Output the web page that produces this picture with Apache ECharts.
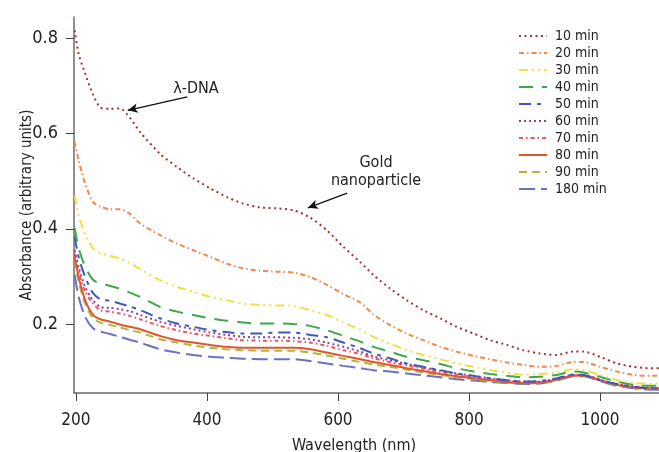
<!DOCTYPE html>
<html><head><meta charset="utf-8">
<script src="https://cdn.jsdelivr.net/npm/echarts@6/dist/echarts.min.js"></script>
<style>html,body{margin:0;padding:0;background:#fff}#c{width:659px;height:452px}</style>
</head><body><div id="c"></div>
<script>
const wavelengths = [198,204,214,226,237,252,267,282,298,328,354,379,405,430,455,481,506,532,557,583,608,634,654,679,705,730,756,781,807,832,858,883,908,934,959,975,1000,1026,1051,1076,1090];

const min10  = [0.817,0.768,0.726,0.682,0.655,0.652,0.653,0.634,0.603,0.558,0.530,0.506,0.485,0.467,0.453,0.445,0.443,0.439,0.424,0.397,0.362,0.330,0.303,0.275,0.250,0.229,0.212,0.194,0.180,0.166,0.156,0.145,0.138,0.135,0.142,0.142,0.131,0.117,0.110,0.107,0.107];
const min20  = [0.583,0.544,0.495,0.456,0.447,0.441,0.441,0.432,0.411,0.387,0.369,0.355,0.341,0.327,0.317,0.312,0.310,0.308,0.299,0.282,0.263,0.245,0.220,0.198,0.180,0.166,0.152,0.142,0.133,0.126,0.119,0.114,0.110,0.112,0.120,0.120,0.110,0.100,0.093,0.091,0.091];
const min30  = [0.470,0.428,0.388,0.359,0.349,0.343,0.338,0.328,0.315,0.292,0.278,0.268,0.257,0.250,0.243,0.240,0.239,0.238,0.229,0.219,0.203,0.188,0.173,0.159,0.145,0.135,0.126,0.117,0.110,0.103,0.098,0.093,0.095,0.098,0.105,0.103,0.093,0.082,0.076,0.074,0.075];
const min40  = [0.402,0.360,0.320,0.293,0.285,0.280,0.274,0.266,0.257,0.236,0.226,0.219,0.212,0.207,0.203,0.201,0.201,0.200,0.196,0.187,0.175,0.163,0.152,0.142,0.131,0.124,0.116,0.107,0.100,0.095,0.091,0.088,0.089,0.093,0.100,0.098,0.089,0.079,0.072,0.070,0.070];
const min50  = [0.383,0.341,0.299,0.265,0.252,0.249,0.243,0.237,0.229,0.212,0.201,0.194,0.187,0.183,0.180,0.180,0.182,0.182,0.177,0.172,0.161,0.149,0.138,0.128,0.117,0.110,0.103,0.096,0.091,0.086,0.082,0.079,0.080,0.086,0.094,0.093,0.082,0.074,0.068,0.065,0.065];
const min60  = [0.355,0.320,0.278,0.250,0.236,0.234,0.231,0.227,0.219,0.205,0.196,0.189,0.182,0.177,0.173,0.172,0.172,0.171,0.168,0.161,0.152,0.142,0.132,0.124,0.116,0.109,0.102,0.096,0.091,0.086,0.082,0.079,0.079,0.085,0.093,0.093,0.083,0.074,0.069,0.066,0.066];
const min70  = [0.348,0.310,0.268,0.243,0.229,0.226,0.222,0.217,0.210,0.196,0.187,0.180,0.175,0.170,0.166,0.165,0.165,0.164,0.161,0.154,0.145,0.137,0.128,0.120,0.113,0.106,0.099,0.094,0.089,0.084,0.080,0.078,0.078,0.084,0.092,0.092,0.082,0.073,0.068,0.065,0.065];
const min80  = [0.341,0.299,0.250,0.219,0.210,0.205,0.199,0.194,0.189,0.175,0.166,0.161,0.156,0.152,0.150,0.150,0.150,0.150,0.147,0.140,0.133,0.126,0.120,0.114,0.107,0.101,0.095,0.090,0.086,0.082,0.078,0.076,0.077,0.083,0.092,0.092,0.082,0.072,0.067,0.064,0.064];
const min90  = [0.334,0.289,0.243,0.212,0.203,0.198,0.193,0.187,0.182,0.168,0.161,0.155,0.150,0.147,0.145,0.144,0.144,0.144,0.140,0.134,0.127,0.120,0.115,0.110,0.104,0.098,0.093,0.088,0.084,0.080,0.077,0.075,0.076,0.082,0.091,0.091,0.081,0.071,0.066,0.063,0.063];
const min180 = [0.303,0.257,0.215,0.191,0.184,0.179,0.173,0.167,0.161,0.147,0.140,0.135,0.131,0.129,0.127,0.126,0.126,0.126,0.122,0.117,0.112,0.107,0.103,0.100,0.096,0.092,0.088,0.084,0.081,0.078,0.076,0.074,0.075,0.081,0.090,0.090,0.080,0.070,0.065,0.062,0.062];

const seriesNames = ['10 min','20 min','30 min','40 min','50 min','60 min','70 min','80 min','90 min','180 min'];
const seriesValues = [min10,min20,min30,min40,min50,min60,min70,min80,min90,min180];
const xTicks = [200,400,600,800,1000];
const yTicks = [0.2,0.4,0.6,0.8];
// annotation arrows in data coordinates: [from, to]
const arrowDNA  = [[370,0.677],[279,0.649]];
const arrowGold = [[614,0.475],[554,0.444]];

const colors = ['#a8302e','#f0894a','#f2df45','#3fa64a','#3a5cb2','#9a3c9e','#ec5560','#e0552a','#b4b43c','#6a70c2'];
const dashes = [[2,3.5],[5,3,1.5,3],[9,4,2,4,2,4],[14,9],[12,6,4,6],[2,3],[4,3,1.5,3],'solid',[8,5],[16,6]];

const FONT = "'Liberation Sans Narrow','Arial Narrow','DejaVu Sans Condensed',sans-serif";

const series = seriesNames.map((name, k) => ({
  name, type: 'line', symbol: 'none', smooth: 0.25,
  data: wavelengths.map((w, i) => [w, seriesValues[k][i]]),
  lineStyle: {color: colors[k], width: 2, type: dashes[k]},
  itemStyle: {color: colors[k]},
  z: 10 - k
}));
series[0].markLine = {
  silent: true, symbol: ['none','arrow'], symbolSize: [7,10], animation: false,
  lineStyle: {color: '#111', width: 1.3, type: 'solid'}, label: {show: false},
  data: [
    [{coord: arrowDNA[0]}, {coord: arrowDNA[1]}],
    [{coord: arrowGold[0]}, {coord: arrowGold[1]}]
  ]
};

const chart = echarts.init(document.getElementById('c'), null, {renderer: 'canvas'});
chart.setOption({
  animation: false,
  backgroundColor: '#fff',
  grid: {left: 74, right: 0, top: 17, bottom: 59, containLabel: false},
  xAxis: {
    type: 'value', min: 197, max: 1090,
    axisLine: {show: true, lineStyle: {color: '#6a6a6a', width: 1.5}},
    axisTick: {show: true, customValues: xTicks, length: 8, lineStyle: {color: '#444', width: 1}},
    axisLabel: {customValues: xTicks, fontSize: 17, fontFamily: FONT, color: '#222', margin: 19,
      formatter: v => String(v)},
    splitLine: {show: false}
  },
  yAxis: {
    type: 'value', min: 0.055, max: 0.845,
    axisLine: {show: true, lineStyle: {color: '#6a6a6a', width: 1.5}},
    axisTick: {show: true, customValues: yTicks, length: 8, lineStyle: {color: '#444', width: 1}},
    axisLabel: {customValues: yTicks, fontSize: 18, fontFamily: FONT, color: '#222', margin: 16,
      formatter: v => v.toFixed(1)},
    splitLine: {show: false}
  },
  legend: {
    orient: 'vertical', left: 513, top: 24, itemWidth: 28, itemHeight: 14, itemGap: 3,
    itemStyle: {opacity: 0, borderWidth: 0},
    textStyle: {fontSize: 14, lineHeight: 14, fontFamily: FONT, color: '#222', padding: [0,0,0,3]},
    data: seriesNames
  },
  graphic: [
    {type: 'text', x: 27, y: 205, rotation: Math.PI/2,
     style: {text: 'Absorbance (arbitrary units)', fontSize: 15, fontFamily: FONT, fill: '#222',
             align: 'center', verticalAlign: 'middle', textAlign: 'center', textVerticalAlign: 'middle'}},
    {type: 'text', x: 354, y: 446,
     style: {text: 'Wavelength (nm)', fontSize: 16, fontFamily: FONT, fill: '#222',
             align: 'center', verticalAlign: 'middle', textAlign: 'center', textVerticalAlign: 'middle'}},
    {type: 'text', x: 196, y: 89,
     style: {text: 'λ-DNA', fontSize: 16, fontFamily: FONT, fill: '#222',
             align: 'center', verticalAlign: 'middle', textAlign: 'center', textVerticalAlign: 'middle'}},
    {type: 'text', x: 376, y: 163,
     style: {text: 'Gold', fontSize: 16, fontFamily: FONT, fill: '#222',
             align: 'center', verticalAlign: 'middle', textAlign: 'center', textVerticalAlign: 'middle'}},
    {type: 'text', x: 376, y: 181,
     style: {text: 'nanoparticle', fontSize: 16, fontFamily: FONT, fill: '#222',
             align: 'center', verticalAlign: 'middle', textAlign: 'center', textVerticalAlign: 'middle'}}
  ],
  series
});
</script></body></html>
